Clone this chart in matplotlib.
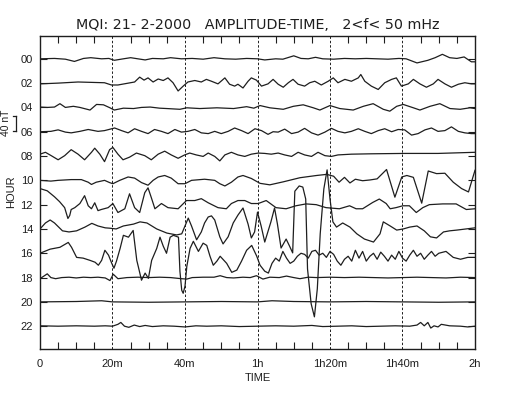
import numpy as np
import matplotlib
matplotlib.use("Agg")
import matplotlib.pyplot as plt
import matplotlib.transforms as mtransforms

plt.rcParams['font.family'] = ['Liberation Sans', 'DejaVu Sans']

# ---------------- data (time in minutes, amplitude in nT) ----------------
hour_labels = ["00", "02", "04", "06", "08", "10", "12", "14", "16", "18", "20", "22"]
tick_minutes = [0, 20, 40, 60, 80, 100, 120]
tick_labels = ["0", "20m", "40m", "1h", "1h20m", "1h40m", "2h"]
spacing_nT = 65
scale_nT = 40

t00 = [0,4,7,9.5,12,14,17,19,20.5,23,25,27,29,31,34,36,39,42,45,48,51,54,57,60,62,65,67,70,72,74,76,78,81,84,87,90,93,96,99,101,104,107,109,111,113,115,117,119,120]
v00 = [0,1,-1,-7,1,3,0,1,-4,0,3,0,-3,1,0,3,0,1,-1,3,0,-1,1,0,-3,0,-1,8,1,0,4,0,-1,1,0,1,0,-1,1,0,-11,-4,3,12,3,1,5,-8,-8]

t02 = [0,5,10.5,17.8,19.7,21.5,23.8,26.1,27.5,28.7,29.8,31.2,32.6,34,35.3,36.7,38.1,39.5,40.8,42.7,44.5,45.9,47.3,49.1,51,52.3,53.7,54.6,56,57.4,58.3,59.7,61.1,62.9,64.3,65.7,67.1,68.5,69.8,71.2,73,74.4,75.8,77.6,79.5,80.9,82.2,84.1,85.9,87.8,88.5,89.6,91.4,93.3,95.1,97,98.3,99.7,101.6,103,104.8,106.6,108.5,109.8,111.7,113.5,115.4,117.2,119,120]
v02 = [-2,0,3,1,-5,-5,-1,3,16,8,14,3,11,7,14,1,-21,-8,3,7,3,10,5,-2,14,-3,-8,-3,-13,5,14,8,-8,-2,10,-3,-11,1,10,-3,-8,1,5,-5,5,14,1,10,5,14,23,5,-8,-17,1,10,14,-8,-2,10,-2,-11,-2,10,-2,-11,-3,1,-2,-2]

t04 = [0,2,4,5.5,7,9.2,11,13.8,15.6,17.5,19.3,20.5,23,25.8,28,30.4,33,35,38.6,40.5,44.1,48.8,53.4,57,59,60.7,63.4,67.1,69.9,72.6,75.4,77.2,80,82.7,86.4,89.2,91.9,94.7,96.5,98.4,100.2,103,104.8,107.6,110.3,113.1,115.9,118.6,120]
v04 = [1,0,1,10,0,3,0,-7,8,7,-1,-7,-2,-3,0,1,-2,-3,-5,-1,-3,-1,-3,2,-2,5,-1,-5,3,7,-1,-7,5,-3,-7,3,10,-5,-10,3,8,-1,-7,3,10,-3,-5,-1,-3]

t06 = [0,3,5,7,8.6,11,13.3,16,17.8,20.6,22.5,24.3,26.1,28,29.8,31.6,33.5,35.3,37.2,39,40.8,42.7,44.5,46.4,48.2,50,51.9,53.7,55.6,57.4,59.3,61.1,62.9,64.3,65.7,67.5,69.4,71.2,73,74.9,76.7,78.6,80.4,82.2,84.1,85.9,87.8,89.6,91.4,93.3,95.1,97,98.8,100.6,102.5,104.3,106.2,108,109.8,111.7,113.5,115.4,117.2,119,120]
v06 = [0,1,5,-1,-3,1,6,1,3,10,3,-3,8,1,-5,6,1,-5,6,-1,1,6,-3,-5,1,-5,1,10,3,-5,8,3,-7,0,-1,7,-5,-1,9,-3,-9,-1,9,1,-3,1,8,1,-5,3,8,0,6,5,-9,-5,5,10,1,3,13,1,-3,-5,-5]

t08 = [0,1.5,3.1,5,6.8,8.6,10.5,12.3,14.2,15.1,16.5,17.8,19.2,20.1,21.5,22.9,24.7,26.6,28.9,30.7,32.6,34.4,36.2,38.1,39.9,41.3,43.1,45,46.4,48.2,49.6,51,52.8,54.6,56.5,58.3,60.2,62,63.8,65.7,67.5,69.4,71.2,73,74.9,76.7,78.6,80.4,82.2,85.9,91.4,100.6,109.8,120]
v08 = [5,10,1,-10,1,17,5,-10,10,21,5,-15,17,23,5,-10,-3,8,1,-10,5,13,3,-6,3,8,3,-1,8,-1,-13,3,10,3,-1,5,8,7,5,8,3,-1,10,3,-1,10,1,-1,3,5,6,7,7,10]

t10 = [0,3,5,8.6,11.4,13.3,14.2,15.5,17.8,19.2,20.1,22,24.3,26.1,28,29.8,31.2,32.6,34.4,36.2,38.1,40,41.8,45.4,48.2,49.6,51,52.8,54.6,56,58.3,60.7,63.4,67.1,71.7,76.3,79.1,81,82.5,84,85.5,87,89,91,93,95.6,97.9,99.8,101.2,103,105.3,107.1,109.4,111.7,114,116.3,118.2,120]
v10 = [0,-2,0,2,2,-5,-11,-5,0,-6,-9,0,9,6,-6,-13,0,9,13,6,-9,-9,0,3,0,-9,-15,-5,9,13,5,-8,-12,-4,7,13,16,11,-5,8,-7,3,-1,1,4,29,-45,9,13,8,-61,25,18,19,-5,-22,-31,27]

t12 = [0,2,4,5.4,6.8,7.7,8.2,8.6,9.6,11,12.3,13.3,14.2,15.1,16,16.9,18.8,20.1,21.5,23.4,24.7,26.1,27.5,28.9,29.8,30.7,31.7,33.5,35.3,38.1,40.4,42.7,44.5,46.4,49.1,51.4,52.8,54.6,56.5,58.3,60.2,62.4,65.1,67.9,70.6,73.4,76.2,78.9,82.6,85.4,87.2,89,91.8,93.6,95.5,96.6,98.2,100.1,101.9,103.8,105.6,107.4,111.1,114.8,117.6,120]
v12 = [43,37,21,8,-8,-37,-29,-13,-8,3,24,-3,-11,5,-16,-13,-8,3,-21,-11,29,-8,-21,32,45,19,-11,3,-8,-11,11,11,16,5,-8,-11,3,11,11,3,3,11,-8,-11,-3,2,0,-8,-11,-3,-11,-11,6,15,3,-11,-8,-3,-3,-21,-8,0,2,2,-13,-11]

t14 = [0,1.5,2.8,4,6.2,8,10.1,12.4,14.3,16,18,19.3,21,23,25.8,27.6,29.5,32.2,35,37.7,39.1,40,40.9,41.8,43.2,44.5,45.4,46.4,47.3,48.2,49.6,50.5,51.9,53.3,54.6,56,57.4,58.3,59.2,60,61,62,63.7,64.7,65.5,66.5,67.9,68.8,69.7,70.3,71.5,72.5,73.3,73.8,74.8,75.7,76.5,77.3,78.3,79.2,80,80.8,81.8,83.5,85.5,87.4,89.5,92,93.8,94.7,96.6,98.4,100.2,102,104,106,107.7,109.4,111.3,113,115,117.5,120]
v14 = [0,16,24,16,-5,-8,-5,5,15,8,3,2,0,8,13,19,16,0,-11,-16,-13,8,29,8,-29,-8,16,32,35,24,-21,-40,-21,16,37,56,13,-24,-8,45,8,-35,19,56,13,-51,-27,-45,-64,101,115,112,80,-107,-200,-235,-160,-13,107,158,80,19,5,16,5,-13,-27,-35,-13,19,8,-3,0,5,8,-5,-21,-24,-8,-5,-3,0,3]

t16 = [0,2.8,5.5,7.8,8.7,10.1,11.9,13.8,15.2,16.1,17,17.9,18.9,19.8,20.4,21.1,22.1,23,24.4,25.7,26.7,27.1,28,29,29.9,30.8,32.2,33.1,34,34.9,35.9,36.8,38.2,38.6,39.1,39.5,40,40.5,41.4,42.3,43.7,45,46,46.9,47.8,48.8,49.7,51.5,52.9,54.3,55.6,57,58.4,59.8,60.7,
       62,63,64,65,66,67,68,69,70,71,72,73,74,75,76,77,78,79,80,81,82,83,84,85,86,87,88,89,90,91,92,93,94,95,96,97,98,99,100,101,102,103,104,105,106,107,108,109,110,112,114,116,118,120]
v16 = [0,11,16,29,16,-11,-13,-19,-24,-32,-19,8,-5,-27,-40,-21,13,48,43,61,-19,-35,-72,-53,-67,-19,13,43,19,0,43,48,43,-48,-99,-107,-88,-35,13,32,5,27,21,-8,-32,-21,-8,-27,-51,-45,-21,8,21,-8,-32,
       -48,-53,-27,-13,-21,5,-13,-27,-21,-8,0,-3,-13,5,8,-5,0,-11,5,-3,-21,-32,-16,-8,-21,8,-13,5,-21,-8,0,-16,3,-8,-21,-5,-16,5,-13,-21,-5,8,-8,0,-16,-5,5,-8,0,5,-11,-16,-11,-11]

t18 = [0,2,3,4.3,6,8,10,12,14,16,18,19.3,20.2,21.5,24,27,30,33,36,39,40.5,42,45,48,49.7,51.5,53.4,56,58,59.7,61.5,63.4,66,68,70,71.7,74,76.3,80,84,88,92,96,100,104,108,112,116,120]
v18 = [-3,10,0,-3,0,1,-1,1,0,1,-1,-8,9,-3,0,1,0,1,0,-3,-4,0,1,1,5,0,-1,1,0,5,-4,1,0,4,0,-3,1,0,1,0,1,0,-1,0,1,0,-1,1,0]

t20 = [0,10,17,20,30,40,50,60,64,70,80,90,100,110,120]
v20 = [0,1,3,0,-1,0,1,0,3,1,0,1,0,-1,0]

t22 = [0,5,10,15,18,20,21.5,22.3,23.3,24.5,26,27.5,29,31,34,37,40,43,46,50,55,60,65,70,75,78,82,86,90,94,98,102,104,105,106,107,107.8,108.7,109.8,110.7,113,116,118,120]
v22 = [1,0,1,0,1,0,5,10,0,-3,3,-1,2,-1,1,0,-2,1,0,1,-1,0,1,0,2,-1,0,1,-1,0,1,0,3,10,1,10,-5,1,-2,5,1,0,-2,0]

traces = [(t00, v00), (t02, v02), (t04, v04), (t06, v06), (t08, v08), (t10, v10),
          (t12, v12), (t14, v14), (t16, v16), (t18, v18), (t20, v20), (t22, v22)]

# ---------------- figure ----------------
W, H = 518, 394
fig = plt.figure(figsize=(W / 100, H / 100), dpi=100)
ax = fig.add_axes([40 / W, 1 - 349 / H, 435 / W, 313 / H])

ink = "#1e1e1e"
for i, (t, v) in enumerate(traces):
    base = -i * spacing_nT
    ax.plot(t, np.asarray(v) + base, color=ink, lw=0.9, solid_joinstyle="round")

for m in tick_minutes[1:-1]:
    ax.axvline(m, color=ink, lw=0.7, ls=(0, (2.5, 2)))

ax.set_xlim(0, 120)
ax.set_ylim(-11 * spacing_nT - 61, 61)

ax.set_xticks(tick_minutes)
ax.set_xticklabels(tick_labels)
ax.set_xticks(np.arange(0, 121, 5), minor=True)
ax.tick_params(axis="x", which="major", length=0, pad=7, labelsize=8, colors=ink)
ax.tick_params(axis="x", which="minor", direction="in", length=5, width=0.8,
               top=True, bottom=True, color=ink)

ax.set_yticks([-i * spacing_nT for i in range(len(hour_labels))])
ax.set_yticklabels(hour_labels)
ax.tick_params(axis="y", direction="in", length=5, width=0.8, left=True, right=True,
               pad=5, labelsize=8, colors=ink)

for s in ax.spines.values():
    s.set_linewidth(1.0)
    s.set_color(ink)

ax.set_xlabel("TIME", fontsize=8, labelpad=3, color=ink)
ax.set_ylabel("HOUR", fontsize=8, color=ink)
ax.yaxis.set_label_coords((16 - 40) / 435, (349 - 192) / 313)
ax.set_title("MQI: 21- 2-2000   AMPLITUDE-TIME,   2<f< 50 mHz", fontsize=10.3,
             family="DejaVu Sans", pad=5, color=ink)

# scale bar (40 nT)
trans = mtransforms.blended_transform_factory(ax.transAxes, ax.transData)
bx = (16 - 40) / 435
ytop, ybot = -152, -152 - scale_nT
ax.plot([bx, bx], [ytop, ybot], transform=trans, color=ink, lw=0.9, clip_on=False)
ax.plot([bx - 0.008, bx], [ytop, ytop], transform=trans, color=ink, lw=0.9, clip_on=False)
ax.plot([bx - 0.008, bx], [ybot, ybot], transform=trans, color=ink, lw=0.9, clip_on=False)
ax.text((6 - 40) / 435, (ytop + ybot) / 2, "40 nT", transform=trans, rotation=90,
        ha="center", va="center", fontsize=7.5, color=ink)

fig.savefig("out.png", dpi=100)
